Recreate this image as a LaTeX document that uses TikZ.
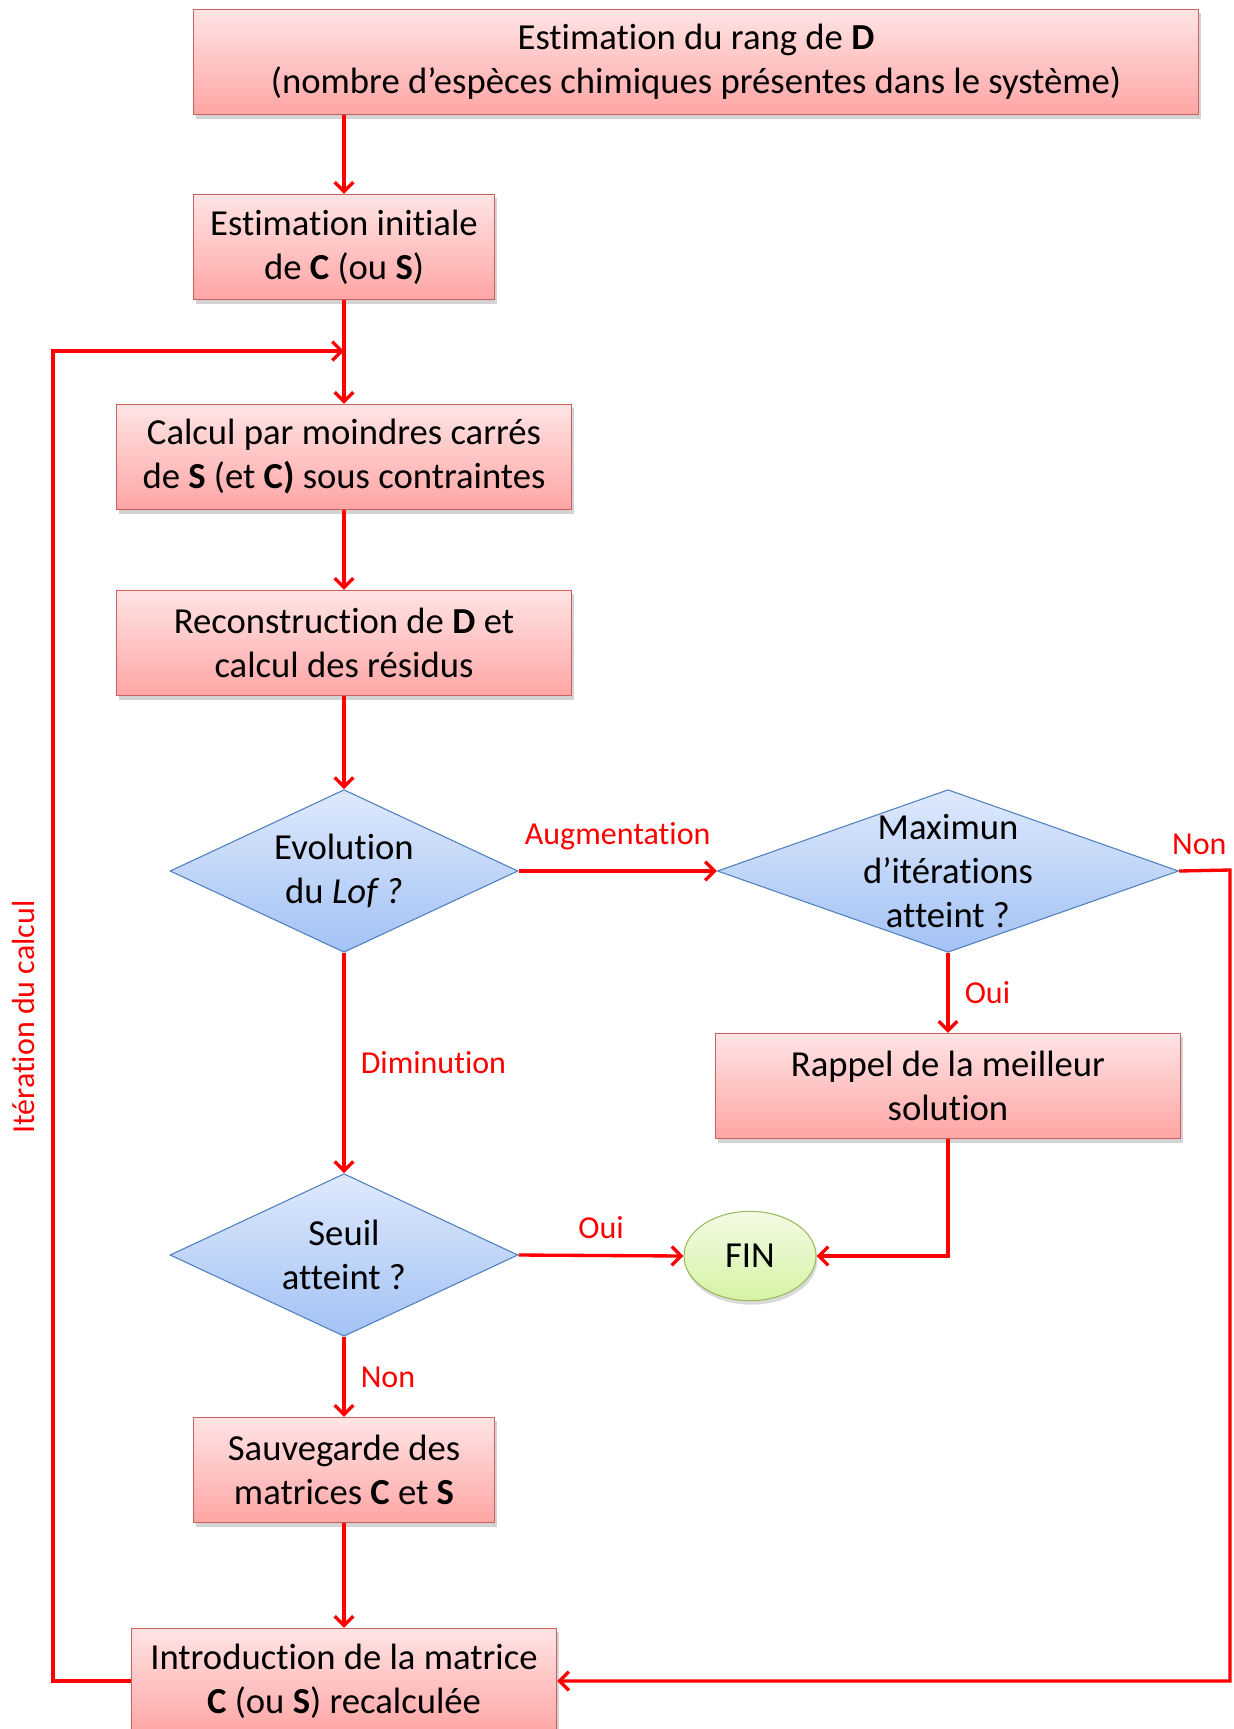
\documentclass[tikz,border=0pt]{standalone}
\usepackage{fontspec}
\setmainfont{Carlito}[Ligatures=NoCommon]
\usetikzlibrary{arrows.meta,shapes.geometric,shadows}
\definecolor{boxline}{HTML}{C9605D}
\definecolor{boxtop}{HTML}{FFE4E4}
\definecolor{boxbot}{HTML}{FFA5A5}
\definecolor{dialine}{HTML}{4F81BD}
\definecolor{diatop}{HTML}{DEE9FC}
\definecolor{diabot}{HTML}{A3C2F5}
\definecolor{finline}{HTML}{9BBB59}
\definecolor{fintop}{HTML}{F3FBE4}
\definecolor{finbot}{HTML}{D5F3A6}
\begin{document}
\begin{tikzpicture}[x=0.75pt, y=-0.75pt,
  every node/.style={font=\fontsize{27.5}{33}\selectfont},
  box/.style={draw=boxline, line width=0.8pt, top color=boxtop, bottom color=boxbot, minimum height=79pt, align=center, inner sep=2pt, drop shadow={opacity=0.35, shadow xshift=2pt, shadow yshift=-3pt}},
  test/.style={diamond, draw=dialine, line width=0.8pt, top color=diatop, bottom color=diabot, inner sep=0pt, minimum height=122pt},
  arr/.style={draw=red, line width=2.5pt, -{Straight Barb[length=7pt, width=14pt]}},
  lab/.style={text=red, font=\fontsize{24}{28}\selectfont}]
\useasboundingbox (0,0) rectangle (1234,1729);

\node[box, minimum width=754pt] (rang) at (696, 62) {Estimation du rang de \textbf{D}\\(nombre d’espèces chimiques présentes dans le système)};
\node[box, minimum width=226pt] (init) at (344, 247) {Estimation initiale\\de \textbf{C} (ou \textbf{S})};
\node[box, minimum width=341pt] (calc) at (344, 457) {Calcul par moindres carrés\\de \textbf{S} (et \textbf{C)} sous contraintes};
\node[box, minimum width=341pt] (recon) at (344, 643) {Reconstruction de \textbf{D} et\\calcul des résidus};
\node[test, minimum width=261pt, label={[align=center]center:{Evolution\\du \textit{Lof ?}}}] (lof) at (344, 871) {};
\node[test, minimum width=346pt, label={[align=center]center:{Maximun\\d’itérations\\atteint ?}}] (maxit) at (948, 871) {};
\node[box, minimum width=349pt] (rappel) at (948, 1086) {Rappel de la meilleur\\solution};
\node[test, minimum width=261pt, label={[align=center]center:{Seuil\\atteint ?}}] (seuil) at (344, 1255) {};
\node[ellipse, draw=finline, line width=0.8pt, top color=fintop, bottom color=finbot, minimum width=99pt, minimum height=67pt, drop shadow={opacity=0.3, shadow xshift=1pt, shadow yshift=-3pt}] (fin) at (750, 1256) {FIN};
\node[box, minimum width=226pt] (sauv) at (344, 1470) {Sauvegarde des\\matrices \textbf{C} et \textbf{S}};
\node[box, minimum width=319pt] (intro) at (344, 1681) {Introduction de la matrice\\\textbf{C} (ou \textbf{S}) recalculée};

\coordinate (join) at (344, 351);
\coordinate (loopL) at (53, 351);
\coordinate (loopR) at (1230, 870);

\draw[arr] (rang.south -| init.north) -- (init.north);
\draw[arr] (init) -- (calc);
\draw[arr] (calc) -- (recon);
\draw[arr] (recon) -- (lof);
\draw[arr] (lof.east) -- (maxit.west) node[midway, above=11pt, lab] {Augmentation};
\draw[arr] (maxit.south) -- (rappel.north) node[midway, right=8pt, lab] {Oui};
\draw[arr] (lof.south) -- (seuil.north) node[midway, right=8pt, lab] {Diminution};
\draw[arr] (seuil.east) -- (fin.west) node[midway, above=8pt, lab] {Oui};
\draw[arr] (rappel.south) |- (fin.east);
\draw[arr] (seuil.south) -- (sauv.north) node[midway, right=8pt, lab] {Non};
\draw[arr] (sauv) -- (intro);
\draw[arr] (intro.west) -| (loopL) -- (join);
\draw[arr] (maxit.east) -- (loopR) node[midway, above=7pt, xshift=-4pt, lab] {Non} |- (intro.east);
\node[lab, rotate=90] (iter) at (24, 1017) {Itération du calcul};
\end{tikzpicture}
\end{document}
